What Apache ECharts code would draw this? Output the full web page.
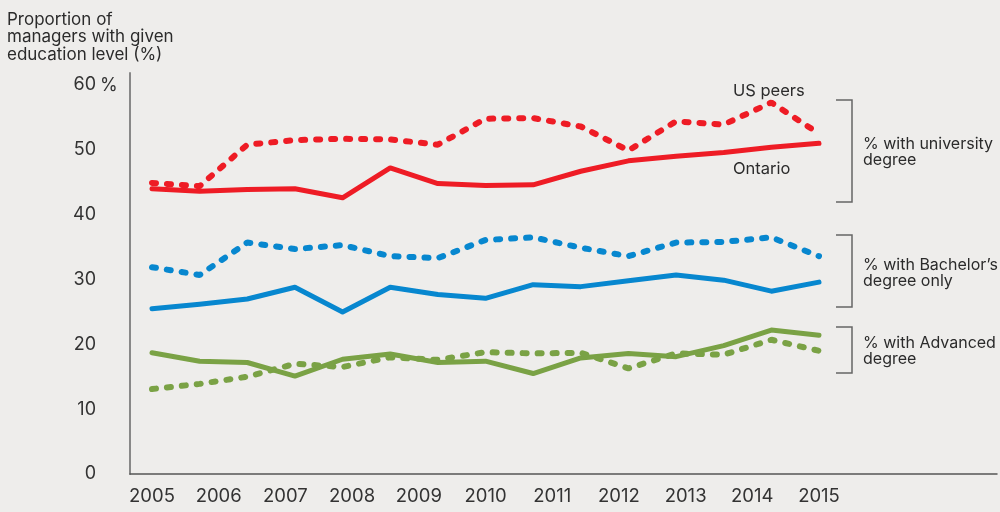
<!DOCTYPE html>
<html>
<head>
<meta charset="utf-8">
<script src="https://cdn.jsdelivr.net/npm/echarts@6/dist/echarts.min.js"></script>
<style>
  html, body { margin: 0; padding: 0; background: #eeedeb; }
  #echarts { width: 1000px; height: 512px; }
</style>
</head>
<body>
<div id="echarts"></div>
<script>
// 15 observations between 2005 and 2015, year labels underneath
var points = ['p1','p2','p3','p4','p5','p6','p7','p8','p9','p10','p11','p12','p13','p14','p15'];
var years = ['2005','2006','2007','2008','2009','2010','2011','2012','2013','2014','2015'];
var yTicks = [0, 10, 20, 30, 40, 50, 60];

var univOntario = [44.0, 43.6, 43.9, 44.0, 42.6, 47.2, 44.8, 44.5, 44.6, 46.7, 48.3, 49.0, 49.6, 50.4, 51.0];
var univUS      = [44.9, 44.4, 50.8, 51.5, 51.7, 51.6, 50.8, 54.8, 54.9, 53.6, 49.9, 54.4, 53.9, 57.3, 52.5];
var bachOntario = [25.5, 26.2, 27.0, 28.8, 25.0, 28.8, 27.7, 27.1, 29.2, 28.9, 29.8, 30.7, 29.9, 28.2, 29.6];
var bachUS      = [31.9, 30.7, 35.7, 34.7, 35.3, 33.6, 33.3, 36.1, 36.5, 34.9, 33.6, 35.7, 35.8, 36.5, 33.6];
var advOntario  = [18.7, 17.4, 17.2, 15.1, 17.7, 18.5, 17.2, 17.4, 15.5, 17.9, 18.6, 18.1, 19.8, 22.2, 21.4];
var advUS       = [13.1, 13.9, 15.0, 17.0, 16.5, 18.0, 17.6, 18.8, 18.6, 18.7, 16.3, 18.6, 18.4, 20.7, 19.0];

var RED = '#ee1c25', BLUE = '#0787cf', GREEN = '#7aa245';
var FONT = 'Inter';

function line(name, data, color, dashed) {
	return {
		name: name,
		type: 'line',
		xAxisIndex: 1,
		yAxisIndex: 1,
		data: data,
		showSymbol: false,
		silent: true,
		lineStyle: dashed
			? { color: color, width: 6, type: [4, 11], cap: 'round' }
			: { color: color, width: 5, cap: 'round', join: 'round' }
	};
}

function bracket(top, bottom) {
	return {
		type: 'polyline',
		shape: { points: [[836, top], [852, top], [852, bottom], [836, bottom]] },
		style: { stroke: '#666', lineWidth: 1.5, fill: null }
	};
}

function note(x, y, text) {
	return {
		type: 'text', x: x, y: y,
		style: { text: text, font: '16px ' + FONT, fill: '#2b2b2b', lineHeight: 16.5, verticalAlign: 'middle' }
	};
}

var dom = document.getElementById('echarts');
var myChart = echarts.init(dom);
var option = {
	backgroundColor: '#eeedeb',
	animation: false,
	title: {
		text: 'Proportion of\nmanagers with given\neducation level (%)',
		left: 2,
		top: 6,
		textStyle: { fontFamily: FONT, fontSize: 17, fontWeight: 'normal', color: '#2b2b2b', lineHeight: 17.5 }
	},
	grid: [
		// frame: axis lines only
		{ left: 130, right: 3, top: 73, bottom: 38 },
		// data area
		{ left: 152, right: 181, top: 85, bottom: 38 }
	],
	xAxis: [
		{
			gridIndex: 0, type: 'value', min: 0, max: 1,
			axisLine: { show: true, lineStyle: { color: '#555', width: 1.5 } },
			axisTick: { show: false }, axisLabel: { show: false }, splitLine: { show: false }
		},
		{
			gridIndex: 1, type: 'category', boundaryGap: false, data: points,
			axisLine: { show: false }, axisTick: { show: false }, axisLabel: { show: false }
		},
		{
			gridIndex: 1, type: 'category', boundaryGap: false, data: years,
			position: 'bottom',
			axisLine: { show: false }, axisTick: { show: false },
			axisLabel: { fontFamily: FONT, fontSize: 18.5, color: '#333', margin: 13 }
		}
	],
	yAxis: [
		{
			gridIndex: 0, type: 'value', min: 0, max: 1,
			axisLine: { show: true, lineStyle: { color: '#888', width: 2 } },
			axisTick: { show: false }, axisLabel: { show: false }, splitLine: { show: false }
		},
		{
			gridIndex: 1, type: 'value', min: yTicks[0], max: yTicks[yTicks.length - 1], interval: 10,
			axisLine: { show: false }, axisTick: { show: false }, splitLine: { show: false },
			axisLabel: { fontFamily: FONT, fontSize: 18, color: '#333', margin: 56 }
		}
	],
	graphic: [
		{ type: 'text', x: 100, y: 86, style: { text: '%', font: '18px ' + FONT, fill: '#333', verticalAlign: 'middle' } },
		{ type: 'text', x: 733, y: 91, style: { text: 'US peers', font: '16.5px ' + FONT, fill: '#2b2b2b', verticalAlign: 'middle' } },
		{ type: 'text', x: 733, y: 169, style: { text: 'Ontario', font: '16.5px ' + FONT, fill: '#2b2b2b', verticalAlign: 'middle' } },
		bracket(100, 202),
		bracket(235, 307),
		bracket(327, 373),
		note(863, 152, '% with university\ndegree'),
		note(863, 273, '% with Bachelor\u2019s\ndegree only'),
		note(863, 351, '% with Advanced\ndegree')
	],
	series: [
		line('University degree, Ontario', univOntario, RED, false),
		line('University degree, US peers', univUS, RED, true),
		line('Bachelor\u2019s only, Ontario', bachOntario, BLUE, false),
		line('Bachelor\u2019s only, US peers', bachUS, BLUE, true),
		line('Advanced degree, Ontario', advOntario, GREEN, false),
		line('Advanced degree, US peers', advUS, GREEN, true)
	]
};
if (option && typeof option === "object") {
	myChart.setOption(option, true);
}
</script>
</body>
</html>
